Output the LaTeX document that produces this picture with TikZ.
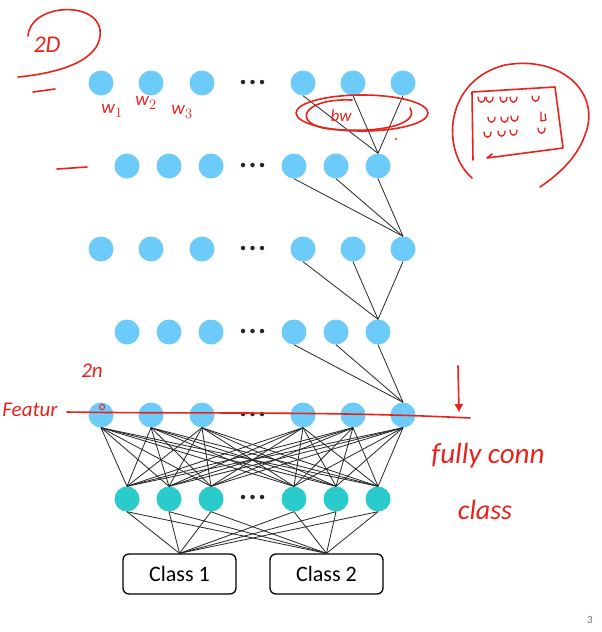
\documentclass[tikz,border=0pt]{standalone}
\usepackage{fontspec}
\setmainfont{Carlito}
\usetikzlibrary{arrows.meta}
\definecolor{nblue}{HTML}{6DCBF9}
\definecolor{nteal}{HTML}{29CBCB}
\definecolor{pen}{HTML}{E8231B}
\begin{document}
\begin{tikzpicture}[x=1pt,y=-1pt,
  bn/.style={circle,fill=nblue,minimum size=25pt,inner sep=0pt},
  tn/.style={circle,fill=nteal,minimum size=25pt,inner sep=0pt},
  cbox/.style={draw=black,line width=1.3pt,rounded corners=6pt,minimum width=113pt,minimum height=40pt,inner sep=0pt,font=\fontsize{22}{26}\selectfont},
  wire/.style={draw=black!85,line width=0.8pt},
  ink/.style={draw=pen,line width=1.6pt,line cap=round,line join=round},
  hand/.style={text=pen,font=\itshape},
  dotty/.style={circle,fill=black!85,minimum size=4.5pt,inner sep=0pt}]
\useasboundingbox (0,0) rectangle (602,632);
\fill[white] (0,0) rectangle (602,632);
% rows
\def\xa{{101,151,202,303,353,403}}
\def\xb{{127,169,211,294,336,378}}
\foreach \r/\y/\s in {1/83/0,2/166/1,3/249/0,4/332/1,5/415/0}{
  \foreach \i in {1,...,6}{
    \ifnum\s=0 \pgfmathsetmacro\xx{\xa[\i-1]}\else\pgfmathsetmacro\xx{\xb[\i-1]}\fi
    \node[bn] (r\r\i) at (\xx,\y) {};
  }
  \node[dotty] (d\r a) at (243,\y-1) {};
  \node[dotty] (d\r b) at (252.5,\y-1) {};
  \node[dotty] (d\r c) at (262,\y-1) {};
}
\foreach \i in {1,...,6}{
  \pgfmathsetmacro\xx{\xb[\i-1]}
  \node[tn] (t\i) at (\xx,499) {};
}
\node[dotty] (dta) at (243,497) {};
\node[dotty] (dtb) at (252.5,497) {};
\node[dotty] (dtc) at (262,497) {};
\node[cbox] (c1) at (179.5,574) {Class 1};
\node[cbox] (c2) at (326.5,574) {Class 2};
% sparse connections
\foreach \a/\b in {1/2,2/3,3/4,4/5}{
  \foreach \i in {4,5,6}{
    \draw[wire] (r\a\i.south) -- (r\b6.north);
  }
}
% fully connected
\foreach \i in {1,...,6}{
  \foreach \j in {1,...,6}{
    \draw[wire] (r5\i.south) -- (t\j.north);
  }
  \draw[wire] (t\i.south) -- (c1.north);
  \draw[wire] (t\i.south) -- (c2.north);
}
% page number
\node[text=black!55,font=\fontsize{11}{13}\selectfont] (pg) at (590,620) {3};
% ---- red annotations ----
\draw[ink] (28,36) .. controls (30,4) and (96,0) .. (100,30) .. controls (103,56) and (70,72) .. (18,77);
\node[hand,font=\fontsize{24}{26}\selectfont\itshape] (twod) at (47,45) {2D};
\draw[ink] (33,92) -- (55,89);
\draw[ink] (57,169) -- (87,167);
\node[hand,font=\fontsize{19}{22}\selectfont\itshape] (w1) at (112,111) {w$_1$};
\node[hand,font=\fontsize{19}{22}\selectfont\itshape] (w2) at (146,103) {w$_2$};
\node[hand,font=\fontsize{19}{22}\selectfont\itshape] (w3) at (182,112) {w$_3$};
% ellipse around bw
\draw[ink] (362,113) ellipse [x radius=66,y radius=18];
\draw[ink] (352,100) .. controls (300,98) and (292,125) .. (330,129) .. controls (380,134) and (420,124) .. (410,108);
\node[hand,font=\fontsize{17}{20}\selectfont\itshape] (bw) at (341,116) {bw};
\fill[pen] (396,139) circle (1.2);
% right circled matrix
\draw[ink] (472,178) .. controls (440,150) and (445,80) .. (505,65) .. controls (560,55) and (602,92) .. (585,135) .. controls (576,160) and (556,176) .. (540,187);
\draw[ink] (473,160) -- (472,92) -- (555,87) -- (563,148) -- (487,158) -- (492,154);
\foreach \px/\py in {478/97,486/97,500/97,510/97,532/96,488/117,501/117,511/116,484/132,498/131,510/130,538/128}{
  \draw[ink,line width=1.3pt] (\px,\py) .. controls (\px,\py+7) and (\px+7,\py+7) .. (\px+7,\py);
}
\draw[ink,line width=1.3pt] (541,112) -- (541,121) -- (546,120) -- (545,114);
% line through feature layer
\draw[ink] (67,412) .. controls (200,414) and (330,411) .. (470,418);
\draw[draw=pen,line width=1pt] (102,407) circle (2.6);
\draw[ink,-{Triangle[length=8pt,width=8pt]}] (458,366) -- (459,412);
\node[hand,font=\fontsize{21}{23}\selectfont\itshape] (feat) at (30,410) {Featur};
\node[hand,font=\fontsize{21}{23}\selectfont\itshape] (twon) at (92,371) {2n};
\node[hand,font=\fontsize{29}{31}\selectfont\itshape] (fully) at (488,456) {fully conn};
\node[hand,font=\fontsize{28}{30}\selectfont\itshape] (cls) at (485,510) {class};
\end{tikzpicture}
\end{document}
